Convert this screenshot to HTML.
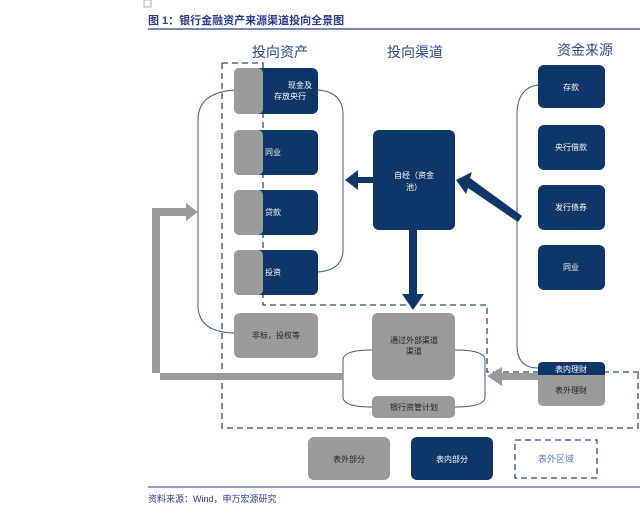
<!DOCTYPE html>
<html><head><meta charset="utf-8"><style>
body{margin:0;background:#fff;}
svg{display:block;font-family:"Liberation Sans","Noto Sans CJK SC",sans-serif;}
</style></head><body>
<svg width="640" height="517" viewBox="0 0 640 517">
<rect x="144" y="0" width="7" height="7" fill="none" stroke="#999" stroke-width="0.8"/>
<text x="148" y="24" font-size="11" font-weight="bold" fill="#2a3a8a">图 1：银行金融资产来源渠道投向全景图</text>
<line x1="148" y1="29" x2="640" y2="29" stroke="#2a3a8a" stroke-width="1.2"/>
<g font-size="14" fill="#2b4a8a" text-anchor="middle">
<text x="280" y="57">投向资产</text><text x="415" y="57">投向渠道</text><text x="585" y="55">资金来源</text></g>
<!-- curves -->
<g fill="none" stroke="#3a5a8a" stroke-width="1">
<path d="M236,90 Q198,92 198,120 V305 Q198,333 236,333"/>
<path d="M318,90 Q343,92 343,115 V250 Q343,270 318,272"/>
<path d="M538,85 Q517,88 517,115 V345 Q517,368 538,368"/>
<path d="M372,350 Q343,350 343,360 V397 Q343,407 372,407"/>
<path d="M455,350 Q485,350 485,360 V397 Q485,407 455,407"/>
</g>
<!-- dashed -->
<g fill="none" stroke="#2b4a7a" stroke-width="1.3" stroke-dasharray="6,4">
<path d="M222,63 H263 V305 H487 V372 H640"/>
<path d="M222,63 V428 H638 V372"/>
<rect x="515" y="440" width="82" height="38"/>
</g>
<!-- left boxes -->
<g>
<rect x="234" y="68" width="84" height="46" rx="6" fill="#0f3668"/><rect x="234" y="68" width="29" height="46" rx="5" fill="#9a9a9a"/>
<rect x="234" y="130" width="84" height="45" rx="6" fill="#0f3668"/><rect x="234" y="130" width="29" height="45" rx="5" fill="#9a9a9a"/>
<rect x="234" y="190" width="84" height="45" rx="6" fill="#0f3668"/><rect x="234" y="190" width="29" height="45" rx="5" fill="#9a9a9a"/>
<rect x="234" y="250" width="84" height="45" rx="6" fill="#0f3668"/><rect x="234" y="250" width="29" height="45" rx="5" fill="#9a9a9a"/>
<rect x="234" y="313" width="84" height="45" rx="6" fill="#9a9a9a"/>
</g>
<g font-size="8" fill="#fff">
<text x="300" y="88" text-anchor="middle">现金及</text><text x="290" y="99" text-anchor="middle">存放央行</text>
<text x="265" y="155">同业</text><text x="265" y="215">贷款</text><text x="265" y="275">投资</text></g>
<text x="276" y="338" font-size="8" fill="#222" text-anchor="middle">非标，投权等</text>
<!-- center -->
<rect x="373" y="130" width="82" height="100" rx="6" fill="#0f3668"/>
<text x="414" y="178" font-size="8" fill="#fff" text-anchor="middle">自经（资金</text><text x="414" y="190" font-size="8" fill="#fff" text-anchor="middle">池）</text>
<rect x="372" y="313" width="83" height="67" rx="6" fill="#9a9a9a"/>
<text x="414" y="343" font-size="8" fill="#222" text-anchor="middle">通过外部渠道</text><text x="414" y="354" font-size="8" fill="#222" text-anchor="middle">渠道</text>
<rect x="372" y="396" width="83" height="22" rx="5" fill="#9a9a9a"/>
<text x="414" y="410" font-size="8" fill="#222" text-anchor="middle">银行资管计划</text>
<!-- navy arrows -->
<g fill="#0f3668">
<rect x="409" y="230" width="8" height="66"/><polygon points="402,294 424,294 413,310"/>
<rect x="356" y="177" width="17" height="6"/><polygon points="358,170 358,190 345,180"/>
<polygon points="518,222 522,216 470,178 472,172 456,180 466,194 468,188"/>
</g>
<!-- right boxes -->
<g fill="#0f3668">
<rect x="538" y="65" width="67" height="43" rx="6"/><rect x="538" y="125" width="67" height="45" rx="6"/>
<rect x="538" y="185" width="67" height="45" rx="6"/><rect x="538" y="245" width="67" height="45" rx="6"/></g>
<g font-size="8" fill="#fff" text-anchor="middle">
<text x="571" y="90">存款</text><text x="571" y="150">央行借款</text><text x="571" y="210">发行债券</text><text x="571" y="270">同业</text></g>
<rect x="538" y="362" width="67" height="44" rx="5" fill="#9a9a9a"/>
<path d="M538,375 V367 Q538,362 543,362 H600 Q605,362 605,367 V375 Z" fill="#0f3668"/>
<text x="571" y="372" font-size="8" fill="#fff" text-anchor="middle">表内理财</text>
<text x="571" y="393" font-size="8" fill="#222" text-anchor="middle">表外理财</text>
<!-- gray arrows -->
<g fill="#9a9a9a">
<polygon points="343,373 152,373 152,208 186,208 186,203 198,212 186,221 186,216 160,216 160,380 343,380"/>
<rect x="500" y="373" width="38" height="7"/><polygon points="502,367 502,386 487,376"/>
</g>
<!-- legend -->
<rect x="308" y="437" width="82" height="43" rx="6" fill="#9a9a9a"/>
<text x="349" y="462" font-size="8" fill="#222" text-anchor="middle">表外部分</text>
<rect x="411" y="437" width="82" height="43" rx="6" fill="#0f3668"/>
<text x="452" y="462" font-size="8" fill="#fff" text-anchor="middle">表内部分</text>
<text x="556" y="462" font-size="9" fill="#5a7ab8" text-anchor="middle">表外区域</text>
<line x1="148" y1="487" x2="640" y2="487" stroke="#2a3a8a" stroke-width="1"/>
<text x="148" y="502" font-size="9" fill="#2a3a8a">资料来源：Wind，申万宏源研究</text>
</svg>
</body></html>
